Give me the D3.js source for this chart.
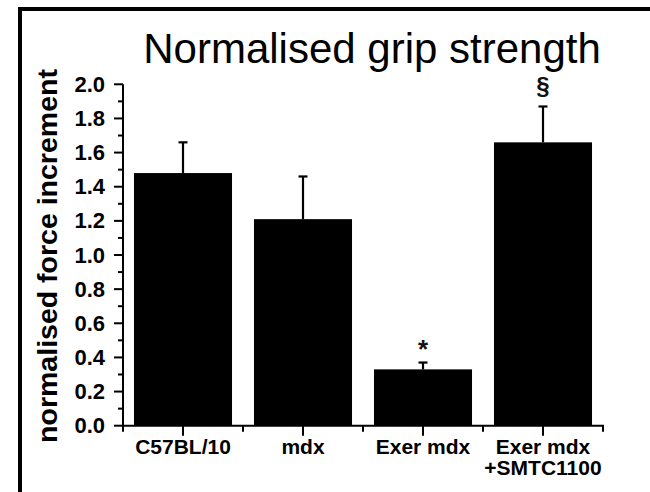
<!DOCTYPE html>
<html><head><meta charset="utf-8">
<script src="https://cdn.jsdelivr.net/npm/d3@7"></script>
<style>html,body{margin:0;padding:0;background:#fff;}svg{display:block;}</style>
</head><body>
<script>
const categories = ["C57BL/10", "mdx", "Exer mdx", "Exer mdx\n+SMTC1100"];
const means = [1.48, 1.21, 0.33, 1.66];
const errors = [0.18, 0.25, 0.04, 0.21];
const marks = ["", "", "*", "§"];
const yTicks = [0.0, 0.2, 0.4, 0.6, 0.8, 1.0, 1.2, 1.4, 1.6, 1.8, 2.0];
const title = "Normalised grip strength";
const yLabel = "normalised force increment";

const W = 650, H = 492;
const svg = d3.select("body").append("svg").attr("width", W).attr("height", H);

// frame
svg.append("rect").attr("x", 20).attr("y", 9).attr("width", 700).attr("height", 600)
  .attr("fill", "none").attr("stroke", "#000").attr("stroke-width", 4);

const x = d3.scaleBand().domain(categories).range([123, 603]).paddingInner(0.183).paddingOuter(0.0915);
const y = d3.scaleLinear().domain([0, 2]).range([425.7, 84.3]);

const font = "'Liberation Sans', Arial, sans-serif";

// title
svg.append("text").attr("x", 372).attr("y", 63).attr("text-anchor", "middle")
  .attr("font-family", font).attr("font-size", 42).attr("fill", "#000").text(title);

// bars
svg.selectAll("rect.bar").data(categories).enter().append("rect").attr("class", "bar")
  .attr("x", d => x(d)).attr("width", x.bandwidth())
  .attr("y", (d, i) => y(means[i])).attr("height", (d, i) => y(0) - y(means[i]))
  .attr("fill", "#000");

// error bars
const eb = svg.append("g").attr("stroke", "#000").attr("stroke-width", 2.2);
categories.forEach((c, i) => {
  const cx = x(c) + x.bandwidth() / 2;
  eb.append("line").attr("x1", cx).attr("x2", cx).attr("y1", y(means[i])).attr("y2", y(means[i] + errors[i]));
  eb.append("line").attr("x1", cx - 4.5).attr("x2", cx + 4.5).attr("y1", y(means[i] + errors[i])).attr("y2", y(means[i] + errors[i]));
});

// significance marks
svg.selectAll("text.mark").data(categories).enter().append("text").attr("class", "mark")
  .attr("x", d => x(d) + x.bandwidth() / 2)
  .attr("y", (d, i) => marks[i] === "*" ? y(means[i] + errors[i]) - 5 : y(means[i] + errors[i]) - 12)
  .attr("text-anchor", "middle").attr("font-family", font).attr("font-weight", "bold")
  .attr("font-size", (d, i) => marks[i] === "*" ? 26 : 24).attr("fill", "#111")
  .text((d, i) => marks[i]);

// y axis
const yAxis = svg.append("g").attr("stroke", "#000").attr("stroke-width", 2);
yAxis.append("line").attr("x1", 123).attr("x2", 123).attr("y1", y(2)).attr("y2", y(0) + 1);
const minor = d3.range(0, 21).map(k => k / 10);
yAxis.selectAll("line.t").data(minor).enter().append("line").attr("class", "t")
  .attr("x1", (d, i) => i % 2 === 0 ? 114 : 118).attr("x2", 123)
  .attr("y1", d => y(d)).attr("y2", d => y(d));
svg.selectAll("text.yt").data(yTicks).enter().append("text").attr("class", "yt")
  .attr("x", 105).attr("y", d => y(d) + 7.5).attr("text-anchor", "end")
  .attr("font-family", font).attr("font-weight", "bold").attr("font-size", 22).attr("fill", "#000")
  .text(d => d.toFixed(1));

// y label
svg.append("text").attr("transform", "translate(57,256) rotate(-90)").attr("text-anchor", "middle")
  .attr("font-family", font).attr("font-weight", "bold").attr("font-size", 28.5).attr("fill", "#000")
  .text(yLabel);

// x axis
const xAxis = svg.append("g").attr("stroke", "#000").attr("stroke-width", 2);
xAxis.append("line").attr("x1", 122).attr("x2", 604).attr("y1", y(0)).attr("y2", y(0));
const step = x.step();
const bounds = d3.range(0, categories.length + 1).map(k => 123 + k * step);
xAxis.selectAll("line.b").data(bounds).enter().append("line").attr("class", "b")
  .attr("x1", d => d).attr("x2", d => d).attr("y1", y(0)).attr("y2", y(0) + 6);
xAxis.selectAll("line.c").data(categories).enter().append("line").attr("class", "c")
  .attr("x1", d => x(d) + x.bandwidth() / 2).attr("x2", d => x(d) + x.bandwidth() / 2)
  .attr("y1", y(0)).attr("y2", y(0) + 10);

const xl = svg.selectAll("text.xl").data(categories).enter().append("text").attr("class", "xl")
  .attr("text-anchor", "middle").attr("font-family", font).attr("font-weight", "bold")
  .attr("font-size", 21).attr("fill", "#000");
xl.each(function(d) {
  const cx = x(d) + x.bandwidth() / 2;
  d.split("\n").forEach((line, j) => {
    d3.select(this).append("tspan").attr("x", cx).attr("y", 454 + j * 21).text(line);
  });
});
</script>
</body></html>
